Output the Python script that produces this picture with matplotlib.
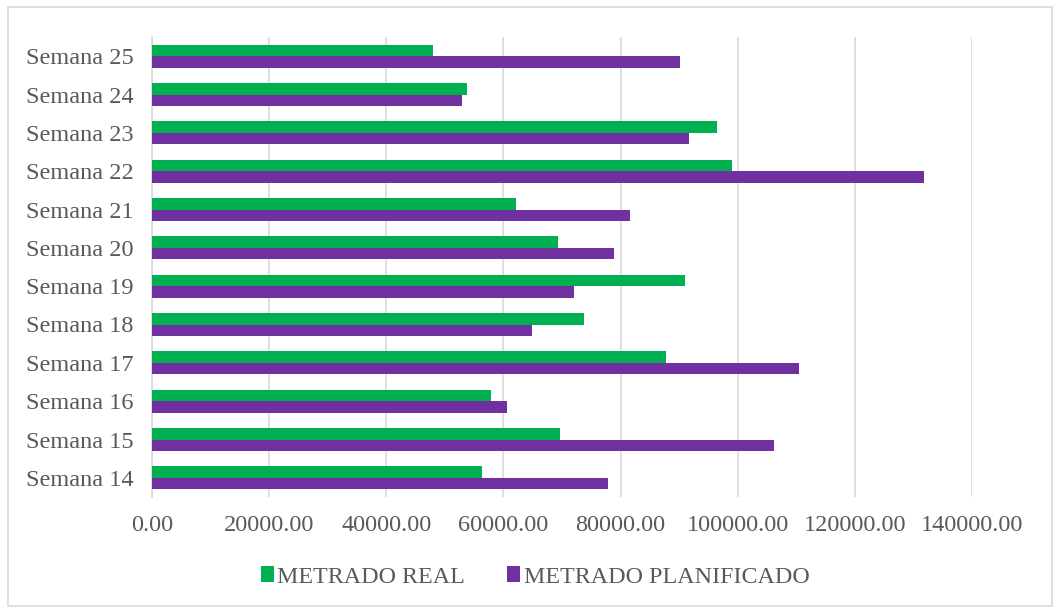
import matplotlib.pyplot as plt
import numpy as np
from matplotlib.patches import Rectangle

semanas = ['Semana 14', 'Semana 15', 'Semana 16', 'Semana 17', 'Semana 18', 'Semana 19',
           'Semana 20', 'Semana 21', 'Semana 22', 'Semana 23', 'Semana 24', 'Semana 25']
metrado_real = [56300, 69600, 57800, 87800, 73800, 91000,
                69400, 62100, 99100, 96400, 53700, 47900]
metrado_plan = [77800, 106200, 60600, 110400, 64900, 72100,
                78900, 81600, 131800, 91700, 52900, 90100]
x_ticks = [0, 20000, 40000, 60000, 80000, 100000, 120000, 140000]

verde = '#00B050'
morado = '#7030A0'
gris = '#595959'

plt.rcParams['font.family'] = ['Liberation Serif', 'DejaVu Serif']

fig = plt.figure(figsize=(10.54, 6.08), dpi=100)
ax = fig.add_axes([152 / 1054, 1 - 497 / 608, (972 - 152) / 1054, (497 - 37) / 608])

y = np.arange(len(semanas))
h = 0.3
ax.barh(y + h / 2, metrado_real, height=h, color=verde, label='METRADO REAL', zorder=3)
ax.barh(y - h / 2, metrado_plan, height=h, color=morado, label='METRADO PLANIFICADO', zorder=3)

ax.set_xlim(0, 140000)
ax.set_ylim(-0.5, len(semanas) - 0.5)
ax.set_xticks(x_ticks)
ax.set_xticklabels([f'{v:.2f}' for v in x_ticks], fontsize=17.5, color=gris)
ax.set_yticks(y)
ax.set_yticklabels(semanas, fontsize=17.5, color=gris)
ax.tick_params(axis='both', length=0)
ax.tick_params(axis='x', pad=13)
ax.tick_params(axis='y', pad=13.5)

ax.grid(axis='x', color='#D9D9D9', linewidth=1.2, zorder=0)
for s in ['top', 'right', 'bottom']:
    ax.spines[s].set_visible(False)
ax.spines['left'].set_color('#D9D9D9')
ax.spines['left'].set_linewidth(1.2)

leg = fig.legend(loc='center', bbox_to_anchor=(0.5 + 8 / 1054, 1 - 577 / 608), ncol=2, frameon=False,
                 fontsize=17.3, handlelength=0.55, handleheight=0.6, handletextpad=0.15,
                 columnspacing=1.73)
for t in leg.get_texts():
    t.set_color(gris)

fig.patches.append(Rectangle((8 / 1054, 2 / 608), 1044 / 1054, 599 / 608, transform=fig.transFigure,
                             fill=False, edgecolor='#D9D9D9', linewidth=1.2))

fig.savefig('out.png', dpi=100)
